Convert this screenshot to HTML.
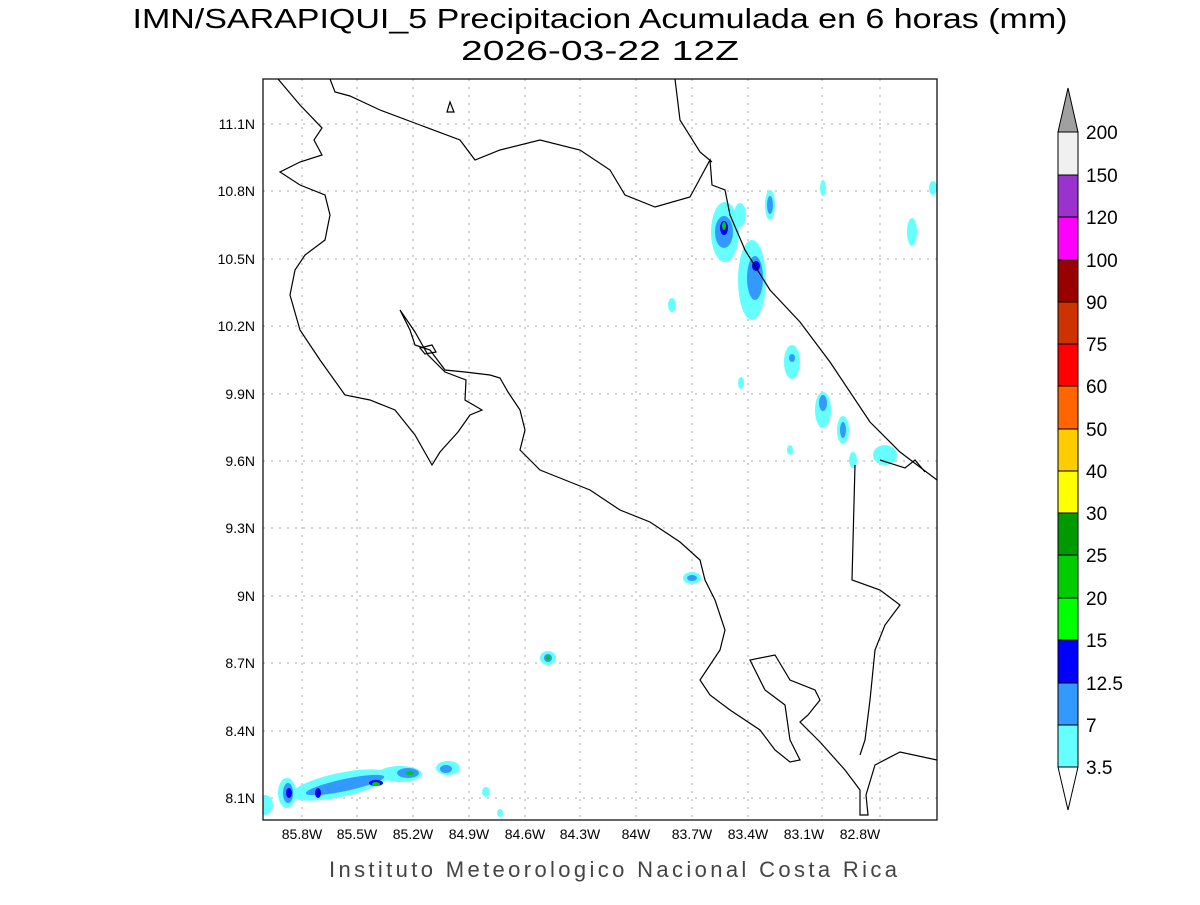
<!DOCTYPE html>
<html><head><meta charset="utf-8"><style>
body{margin:0;background:#fff;width:1200px;height:900px;overflow:hidden}
svg text{font-family:"Liberation Sans",sans-serif}
</style></head><body>
<svg width="1200" height="900" viewBox="0 0 1200 900">
<text x="600" y="28" text-anchor="middle" font-size="28" fill="#000" textLength="935" lengthAdjust="spacingAndGlyphs">IMN/SARAPIQUI_5 Precipitacion Acumulada en 6 horas (mm)</text>
<text x="600" y="60" text-anchor="middle" font-size="28" fill="#000" textLength="278" lengthAdjust="spacingAndGlyphs">2026-03-22 12Z</text>
<defs><clipPath id="c"><rect x="263" y="79" width="674" height="741"/></clipPath></defs>
<g stroke="#aaa" stroke-width="1" stroke-dasharray="2,6">
<line x1="302" y1="79" x2="302" y2="820"/><line x1="357" y1="79" x2="357" y2="820"/><line x1="413" y1="79" x2="413" y2="820"/><line x1="469" y1="79" x2="469" y2="820"/><line x1="525" y1="79" x2="525" y2="820"/><line x1="580" y1="79" x2="580" y2="820"/><line x1="636" y1="79" x2="636" y2="820"/><line x1="692" y1="79" x2="692" y2="820"/><line x1="748" y1="79" x2="748" y2="820"/><line x1="822" y1="79" x2="822" y2="820"/><line x1="880" y1="79" x2="880" y2="820"/>
<line x1="263" y1="124" x2="937" y2="124"/><line x1="263" y1="191" x2="937" y2="191"/><line x1="263" y1="259" x2="937" y2="259"/><line x1="263" y1="326" x2="937" y2="326"/><line x1="263" y1="394" x2="937" y2="394"/><line x1="263" y1="461" x2="937" y2="461"/><line x1="263" y1="528" x2="937" y2="528"/><line x1="263" y1="596" x2="937" y2="596"/><line x1="263" y1="663" x2="937" y2="663"/><line x1="263" y1="731" x2="937" y2="731"/><line x1="263" y1="798" x2="937" y2="798"/>
</g>
<g clip-path="url(#c)">
<g fill="#66ffff">
<ellipse cx="725" cy="232" rx="14" ry="30"/><ellipse cx="752" cy="280" rx="14" ry="40"/><ellipse cx="770" cy="205" rx="5" ry="15"/><ellipse cx="740" cy="215" rx="6" ry="12"/>
<ellipse cx="792" cy="362" rx="8" ry="17"/><ellipse cx="823" cy="410" rx="8" ry="18"/><ellipse cx="843" cy="430" rx="6" ry="14"/><ellipse cx="885" cy="455" rx="12" ry="10"/><ellipse cx="912" cy="232" rx="5" ry="14"/><ellipse cx="823" cy="188" rx="3" ry="8"/><ellipse cx="933" cy="188" rx="4" ry="7"/>
<ellipse cx="672" cy="305" rx="4" ry="7"/><ellipse cx="692" cy="578" rx="9" ry="6"/><ellipse cx="548" cy="658" rx="8" ry="7"/><ellipse cx="853" cy="460" rx="4" ry="8"/><ellipse cx="741" cy="383" rx="3" ry="6"/><ellipse cx="790" cy="450" rx="3" ry="5"/>
<ellipse cx="340" cy="785" rx="50" ry="12" transform="rotate(-12 340 785)"/><ellipse cx="287" cy="793" rx="9" ry="15"/><ellipse cx="265" cy="805" rx="8" ry="10"/><ellipse cx="400" cy="774" rx="22" ry="8"/><ellipse cx="448" cy="768" rx="12" ry="7"/><ellipse cx="486" cy="792" rx="4" ry="5"/><ellipse cx="500" cy="813" rx="3" ry="4"/>
</g>
<g fill="#3399ff">
<ellipse cx="724" cy="232" rx="9" ry="16"/><ellipse cx="755" cy="278" rx="8" ry="22"/><ellipse cx="770" cy="205" rx="3" ry="9"/><ellipse cx="823" cy="403" rx="4" ry="8"/><ellipse cx="843" cy="430" rx="3" ry="8"/><ellipse cx="792" cy="358" rx="3" ry="4"/>
<ellipse cx="345" cy="785" rx="40" ry="6" transform="rotate(-12 345 785)"/><ellipse cx="288" cy="793" rx="5" ry="10"/><ellipse cx="408" cy="773" rx="11" ry="5"/><ellipse cx="446" cy="769" rx="6" ry="4"/><ellipse cx="548" cy="658" rx="4" ry="4"/><ellipse cx="692" cy="578" rx="5" ry="3"/>
</g>
<g fill="#0000ff"><ellipse cx="724" cy="228" rx="4" ry="7"/><ellipse cx="756" cy="266" rx="4" ry="5"/><ellipse cx="376" cy="783" rx="7" ry="3"/><ellipse cx="289" cy="793" rx="3" ry="5"/><ellipse cx="318" cy="793" rx="3" ry="5"/></g>
<g fill="#00cc00"><ellipse cx="724" cy="226" rx="2" ry="4"/><ellipse cx="376" cy="784" rx="4" ry="2"/><ellipse cx="410" cy="773" rx="4" ry="2"/><ellipse cx="548" cy="658" rx="2" ry="2"/></g>
<g fill="none" stroke="#000" stroke-width="1.2">
<path d="M278,79 L300,105 L322,128 L314,140 L322,155 L300,162 L280,172 L300,185 L325,195 L330,215 L325,240 L305,255 L295,270 L290,295 L300,330 L320,360 L345,395 L370,400 L395,410 L415,435 L432,465 L440,452 L458,432 L470,415 L482,410 L465,400 L466,380 L445,372 L428,355 L415,332 L400,310 L410,330 L415,345 L430,350 L445,370 L465,372 L490,375 L500,378 L508,392 L520,410 L525,430 L520,450 L540,470 L560,478 L590,490 L620,510 L650,522 L680,542 L700,560 L705,580 L715,600 L725,630 L720,650 L710,665 L700,680 L710,695 L730,710 L760,730 L775,750 L790,762 L800,760 L790,740 L785,705 L765,690 L750,660 L775,655 L790,680 L815,690 L820,700 L808,715 L800,722 L820,742 L845,770 L860,790 L860,815 L868,815 L866,795 L875,765 L900,752 L937,760"/>
<path d="M330,79 L335,92 L350,96 L380,110 L420,125 L460,140 L475,160 L500,150 L540,140 L580,150 L610,170 L625,195 L655,207 L690,197 L710,160 L712,185 L725,190 L730,215 L745,250 L770,290 L800,322 L830,362 L870,422 L900,452 L937,480"/>
<path d="M675,79 L680,120 L700,152 L712,162"/>
<path d="M880,460 L905,468 L915,460 L925,472"/>
<path d="M855,465 L852,580 L880,590 L900,605 L885,625 L875,650 L870,700 L865,740 L860,755"/>
<path d="M420,348 L432,345 L436,352 L425,354 Z"/>
<path d="M450,102 L454,112 L447,112 Z"/>
</g>
</g>
<rect x="263" y="79" width="674" height="741" fill="none" stroke="#000" stroke-width="1.2"/>
<g font-size="14" fill="#000" text-anchor="end">
<text x="255" y="129">11.1N</text><text x="255" y="196">10.8N</text><text x="255" y="264">10.5N</text><text x="255" y="331">10.2N</text><text x="255" y="399">9.9N</text><text x="255" y="466">9.6N</text><text x="255" y="533">9.3N</text><text x="255" y="601">9N</text><text x="255" y="668">8.7N</text><text x="255" y="736">8.4N</text><text x="255" y="803">8.1N</text>
</g>
<g font-size="14" fill="#000" text-anchor="middle">
<text x="302" y="839">85.8W</text><text x="357" y="839">85.5W</text><text x="413" y="839">85.2W</text><text x="469" y="839">84.9W</text><text x="525" y="839">84.6W</text><text x="580" y="839">84.3W</text><text x="636" y="839">84W</text><text x="692" y="839">83.7W</text><text x="748" y="839">83.4W</text><text x="804" y="839">83.1W</text><text x="860" y="839">82.8W</text>
</g>
<text x="613" y="877" text-anchor="middle" font-size="22" fill="#444" textLength="568">Instituto Meteorologico Nacional Costa Rica</text>
<g stroke="#000" stroke-width="1">
<polygon points="1058,132 1078,132 1068,88" fill="#a0a0a0"/>
<rect x="1058" y="132" width="20" height="43" fill="#f0f0f0"/>
<rect x="1058" y="175" width="20" height="42" fill="#9933cc"/>
<rect x="1058" y="217" width="20" height="43" fill="#ff00ff"/>
<rect x="1058" y="260" width="20" height="42" fill="#990000"/>
<rect x="1058" y="302" width="20" height="42" fill="#cc3300"/>
<rect x="1058" y="344" width="20" height="42" fill="#ff0000"/>
<rect x="1058" y="386" width="20" height="43" fill="#ff6600"/>
<rect x="1058" y="429" width="20" height="42" fill="#ffcc00"/>
<rect x="1058" y="471" width="20" height="42" fill="#ffff00"/>
<rect x="1058" y="513" width="20" height="42" fill="#009900"/>
<rect x="1058" y="555" width="20" height="43" fill="#00cc00"/>
<rect x="1058" y="598" width="20" height="42" fill="#00ff00"/>
<rect x="1058" y="640" width="20" height="43" fill="#0000ff"/>
<rect x="1058" y="683" width="20" height="42" fill="#3399ff"/>
<rect x="1058" y="725" width="20" height="42" fill="#66ffff"/>
<polygon points="1058,767 1078,767 1068,810" fill="#fff"/>
</g>
<g font-size="19" fill="#000">
<text x="1086" y="139">200</text><text x="1086" y="182">150</text><text x="1086" y="224">120</text><text x="1086" y="267">100</text><text x="1086" y="309">90</text><text x="1086" y="351">75</text><text x="1086" y="393">60</text><text x="1086" y="436">50</text><text x="1086" y="478">40</text><text x="1086" y="520">30</text><text x="1086" y="562">25</text><text x="1086" y="605">20</text><text x="1086" y="647">15</text><text x="1086" y="690">12.5</text><text x="1086" y="732">7</text><text x="1086" y="774">3.5</text>
</g>
</svg>
</body></html>
